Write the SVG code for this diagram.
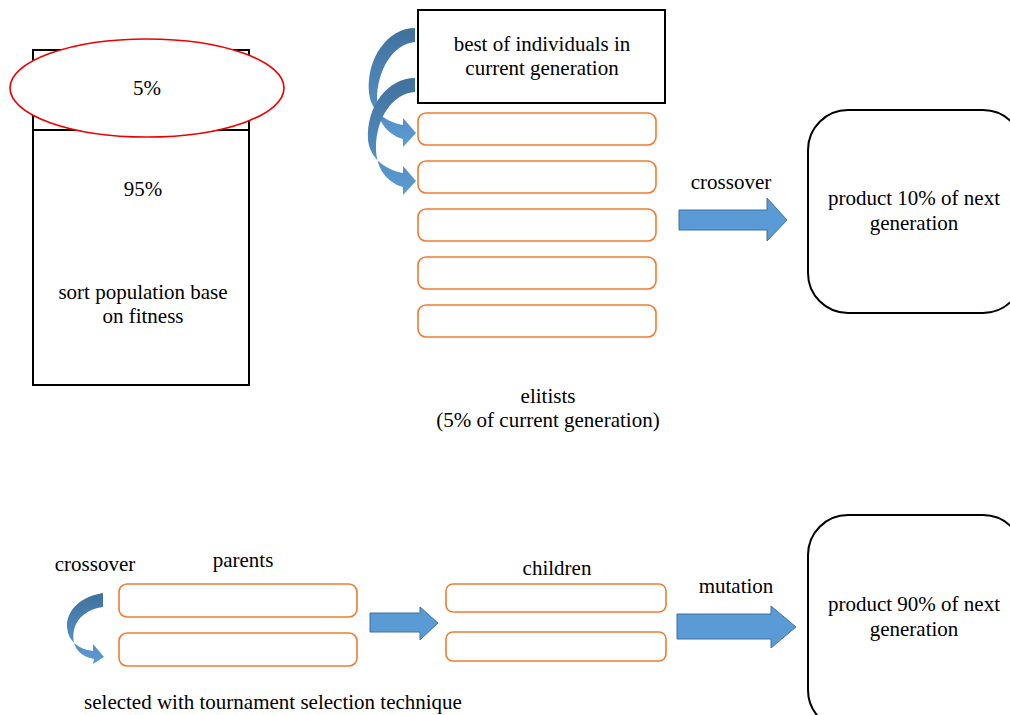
<svg xmlns="http://www.w3.org/2000/svg" width="1010" height="715" viewBox="0 0 1010 715">
<defs>
<linearGradient id="cg" x1="0" y1="0" x2="0" y2="1">
<stop offset="0" stop-color="#41719c"/>
<stop offset="1" stop-color="#5b9bd5"/>
</linearGradient>
<style>
text{font-family:"Liberation Serif","Times New Roman",serif;font-size:21px;fill:#000;text-anchor:middle}
.blk{fill:#fff;stroke:#000;stroke-width:2}
.org{fill:#fff;stroke:#ed7d31;stroke-width:1.6}
.arr{fill:#5b9bd5;stroke:#41719c;stroke-width:1}
.curv{fill:url(#cg);stroke:none}
</style>
</defs>
<rect width="1010" height="715" fill="#fff"/>

<g id="population">
<rect class="blk" x="33" y="50" width="216" height="335"/>
<line x1="33" y1="130" x2="249" y2="130" stroke="#000" stroke-width="2"/>
<text x="143" y="196">95%</text>
<text x="143" y="299">sort population base</text>
<text x="143" y="323">on fitness</text>
</g>
<g id="top5">
<ellipse cx="147" cy="88" rx="137" ry="49" fill="#fff" stroke="#e00" stroke-width="1.6"/>
<text x="147" y="95">5%</text>
</g>

<g id="best">
<rect class="blk" x="418" y="10" width="247" height="93"/>
<text x="542" y="51">best of individuals in</text>
<text x="542" y="75">current generation</text>
</g>

<g id="elitists">
<rect class="org" x="418" y="113" width="238" height="32" rx="8"/>
<rect class="org" x="418" y="161" width="238" height="32" rx="8"/>
<rect class="org" x="418" y="209" width="238" height="32" rx="8"/>
<rect class="org" x="418" y="257" width="238" height="32" rx="8"/>
<rect class="org" x="418" y="305" width="238" height="32" rx="8"/>
<text x="548" y="403">elitists</text>
<text x="548" y="427">(5% of current generation)</text>
</g>

<g id="product10">
<rect class="blk" x="808" y="110" width="215" height="203" rx="40"/>
<text x="914" y="205">product 10% of next</text>
<text x="914" y="230">generation</text>
</g>

<g id="parents">
<text x="243" y="567">parents</text>
<rect class="org" x="119" y="584" width="238" height="33" rx="8"/>
<rect class="org" x="119" y="633" width="238" height="33" rx="8"/>
</g>

<g id="children">
<text x="557" y="575">children</text>
<rect class="org" x="446" y="584" width="220" height="28" rx="7"/>
<rect class="org" x="446" y="632" width="220" height="29" rx="7"/>
</g>

<g id="product90">
<rect class="blk" x="808" y="515" width="215" height="215" rx="40"/>
<text x="914" y="611">product 90% of next</text>
<text x="914" y="636">generation</text>
</g>

<g id="connectors">
<path class="curv" d="M415 28 C388 28 366 58 369 93 C371 110 383 121 403 125 L403 118 L416 133 L403 147 L403 139 C385 134 376 118 377 100 C377 70 393 44 415 42 Z"/>
<path class="curv" d="M415 78 C388 78 366 106 368 140 C370 157 383 169 403 173 L403 166 L416 181 L403 195 L403 187 C385 182 376 166 376 148 C376 118 393 93 415 92 Z"/>
<polygon class="arr" points="679,210 767,210 767,198 787,220 767,241 767,230 679,230"/>
<text x="731" y="189">crossover</text>

<text x="95" y="571">crossover</text>
<path class="curv" d="M103 593 C82 596 66 610 67 627 C68 641 78 649 93 651 L93 644 L104 657 L93 664 L94 659 C78 656 71 645 74 630 C77 617 88 609 103 607 Z"/>
<polygon class="arr" points="370,613 420,613 420,607 438,623 420,640 420,632 370,632"/>
<polygon class="arr" points="677,614 771,614 771,606 796,627 771,648 771,639 677,639"/>
<text x="736" y="593">mutation</text>
<text x="273" y="709">selected with tournament selection technique</text>
</g>
</svg>
